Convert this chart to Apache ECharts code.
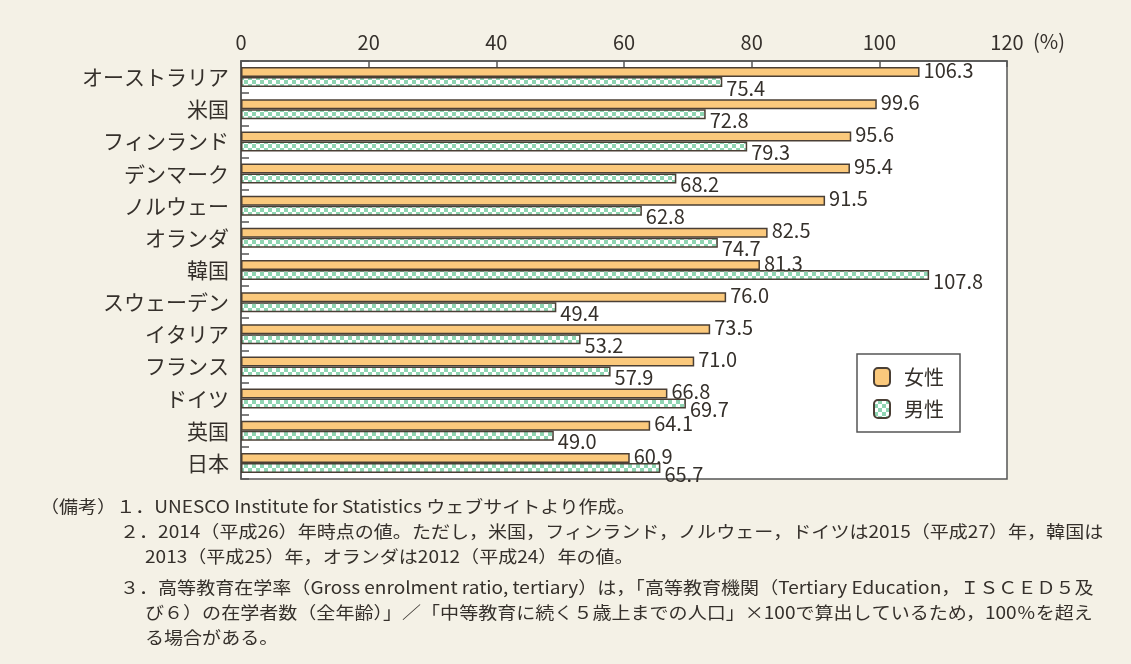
<!DOCTYPE html>
<html>
<head>
<meta charset="utf-8">
<script src="https://cdn.jsdelivr.net/npm/echarts@6/dist/echarts.min.js"></script>
<style>
  html, body { margin: 0; padding: 0; background: #f4f1e6; }
  #main { width: 1131px; height: 664px; }
</style>
</head>
<body>
<div id="main"></div>
<script>
// 高等教育在学率（国別・男女別）
const countries = ['オーストラリア', '米国', 'フィンランド', 'デンマーク', 'ノルウェー', 'オランダ', '韓国',
  'スウェーデン', 'イタリア', 'フランス', 'ドイツ', '英国', '日本'];
const female = [106.3, 99.6, 95.6, 95.4, 91.5, 82.5, 81.3, 76.0, 73.5, 71.0, 66.8, 64.1, 60.9];
const male = [75.4, 72.8, 79.3, 68.2, 62.8, 74.7, 107.8, 49.4, 53.2, 57.9, 69.7, 49.0, 65.7];
const xTicks = [0, 20, 40, 60, 80, 100, 120];

const notes = [
  { x: 40, y: 507, text: '（備考）１．UNESCO Institute for Statistics ウェブサイトより作成。' },
  { x: 120, y: 532, text: '２．2014（平成26）年時点の値。ただし，米国，フィンランド，ノルウェー，ドイツは2015（平成27）年，韓国は' },
  { x: 145, y: 557, text: '2013（平成25）年，オランダは2012（平成24）年の値。' },
  { x: 120, y: 588, text: '３．高等教育在学率（Gross enrolment ratio, tertiary）は，「高等教育機関（Tertiary Education，ＩＳＣＥＤ５及' },
  { x: 145, y: 613, text: 'び６）の在学者数（全年齢）」／「中等教育に続く５歳上までの人口」×100で算出しているため，100％を超え' },
  { x: 145, y: 638, text: 'る場合がある。' }
];

const FONT = '"Noto Sans CJK JP", "Noto Sans", sans-serif';
const INK = '#35302b';
const EDGE = '#4a3f35';

// 男性の市松模様
const pat = document.createElement('canvas');
pat.width = 8;
pat.height = 8;
const pctx = pat.getContext('2d');
pctx.fillStyle = '#8fd5b2';
pctx.fillRect(0, 0, 8, 8);
pctx.fillStyle = '#ffffff';
pctx.fillRect(0, 0, 4, 4);
pctx.fillRect(4, 4, 4, 4);

const myChart = echarts.init(document.getElementById('main'));

const option = {
  backgroundColor: '#f4f1e6',
  textStyle: { fontFamily: FONT },
  grid: {
    left: 241, top: 61, width: 766, height: 418,
    show: true, backgroundColor: '#ffffff', borderColor: '#555', borderWidth: 1.5
  },
  legend: {
    orient: 'vertical',
    left: 857, top: 354,
    padding: [13, 16, 13, 16],
    itemGap: 12,
    itemWidth: 16, itemHeight: 18,
    borderColor: '#555', borderWidth: 1.5,
    backgroundColor: '#ffffff',
    textStyle: { fontSize: 20, color: INK, fontFamily: FONT, padding: [0, 0, 0, 9] },
    data: ['女性', '男性']
  },
  xAxis: {
    type: 'value',
    position: 'top',
    min: xTicks[0], max: xTicks[xTicks.length - 1], interval: 20,
    axisLine: { show: true, lineStyle: { color: '#555', width: 1.5 } },
    axisTick: { show: true, inside: true, length: 6, lineStyle: { color: '#555', width: 1.5 } },
    axisLabel: { fontSize: 20, color: INK, margin: 9 },
    splitLine: { show: false }
  },
  yAxis: {
    type: 'category',
    inverse: true,
    data: countries,
    axisLine: { show: true, lineStyle: { color: '#555', width: 1.5 } },
    axisTick: { show: true, inside: true, length: 8, lineStyle: { color: '#555', width: 1.5 } },
    axisLabel: { fontSize: 21, color: INK, margin: 12 }
  },
  series: [
    {
      name: '女性',
      type: 'bar',
      data: female,
      barWidth: 10,
      barGap: '0%',
      itemStyle: { color: '#fbc97c', borderColor: EDGE, borderWidth: 1.5 },
      label: {
        show: true, position: 'right', distance: 4, offset: [0, -2],
        fontSize: 20, color: INK,
        formatter: p => p.value.toFixed(1)
      }
    },
    {
      name: '男性',
      type: 'bar',
      data: male,
      barWidth: 10,
      itemStyle: { color: { image: pat, repeat: 'repeat' }, borderColor: EDGE, borderWidth: 1.5 },
      label: {
        show: true, position: 'right', distance: 4, offset: [0, 6],
        fontSize: 20, color: INK,
        formatter: p => p.value.toFixed(1)
      }
    }
  ],
  graphic: [
    {
      type: 'text', left: 1033, top: 31,
      style: { text: '(%)', font: '20px ' + FONT, fill: INK }
    }
  ].concat(notes.map(n => ({
    type: 'text', x: n.x, y: n.y, scaleX: 1.12,
    style: { text: n.text, font: '17px ' + FONT, fill: INK, verticalAlign: 'middle' }
  })))
};

myChart.setOption(option);
</script>
</body>
</html>
